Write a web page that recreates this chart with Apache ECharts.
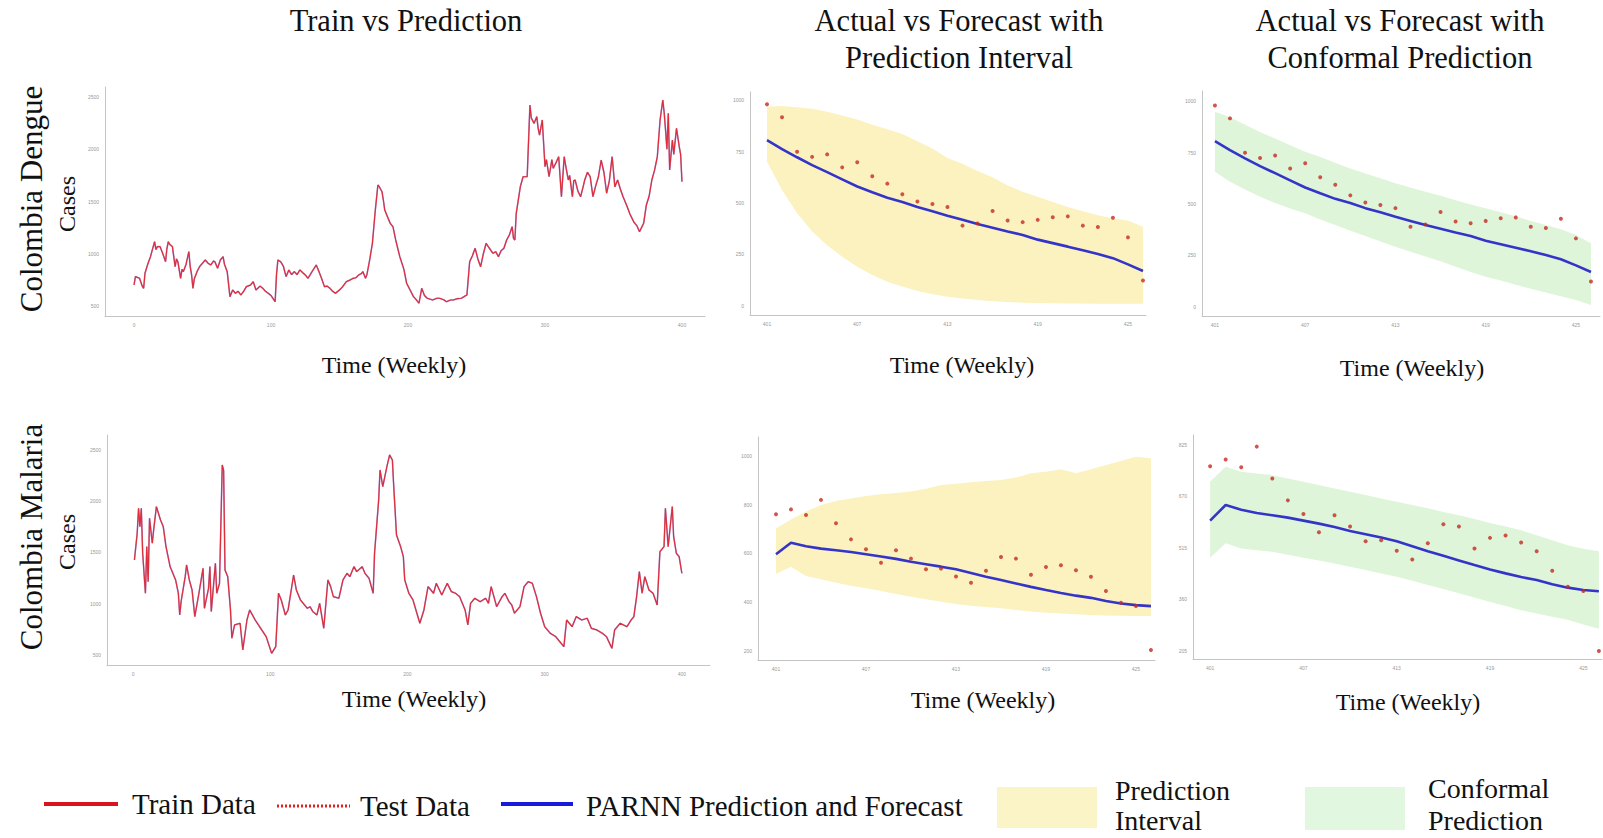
<!DOCTYPE html>
<html><head><meta charset="utf-8">
<script src="https://cdn.jsdelivr.net/npm/echarts@6/dist/echarts.min.js"></script>
<style>html,body{margin:0;padding:0;background:#fff}#c{width:1603px;height:838px}</style>
</head><body><div id="c"></div><script>
// ---------- DATA ----------
const trainXTicks = [0, 100, 200, 300, 400];
const trainYTicks = [500, 1000, 1500, 2000, 2500];
const fcXTicks = [401, 407, 413, 419, 425];
const denFcYTicks = [0, 250, 500, 750, 1000];
const malPiYTicks = [200, 400, 600, 800, 1000];
const malCpYTicks = [205, 360, 515, 670, 825];

const denTrainWeeks = [0,1,4,6,7,8,10,12,13,15,16,17,19,21,23,24,25,26,28,30,31,32,34,35,36,38,40,41,42,43,44,46,48,52,54,56,58,59,61,63,65,66,68,70,72,74,76,78,80,82,85,87,89,92,94,96,98,100,103,104,105,107,109,111,113,115,117,119,121,123,125,127,130,133,135,137,139,141,143,145,147,150,152,155,158,160,162,164,166,167,169,170,172,174,176,178,179,181,182,183,185,187,189,191,194,197,199,202,204,206,208,210,212,214,218,221,223,226,228,231,233,236,239,241,243,245,247,249,251,253,255,257,259,262,264,266,268,270,272,274,276,277,278,279,282,284,287,289,290,292,294,295,296,298,300,301,303,305,306,308,310,312,314,315,317,318,320,321,322,324,326,328,329,331,333,335,337,339,341,343,345,347,349,351,353,355,357,360,362,365,367,369,372,374,376,378,380,382,384,386,387,388,389,390,391,392,393,394,396,398,399,400];
const denTrainCases = [701,781,765,690,669,813,900,972,1020,1115,1040,1068,1068,1000,924,1050,1115,1090,1068,876,950,924,765,850,829,900,1020,876,800,669,760,829,880,940,910,892,930,924,861,940,972,900,829,589,653,621,640,605,640,685,700,733,653,690,669,640,621,600,541,800,940,924,880,781,845,800,829,800,845,820,797,765,830,892,829,760,685,690,669,640,621,653,680,733,750,765,770,797,810,829,765,800,940,1100,1400,1658,1642,1594,1514,1419,1355,1291,1259,1132,972,850,717,640,589,560,526,669,600,574,557,574,574,560,541,557,557,570,574,590,605,924,980,1052,950,876,1000,1100,1060,1004,1020,972,1030,1052,1132,1180,1259,1150,1131,1387,1642,1737,1737,2424,2300,2248,2312,2200,2136,2280,1833,1900,1737,1900,1818,1870,1929,1546,1929,1850,1706,1750,1546,1700,1706,1600,1546,1650,1706,1780,1737,1546,1650,1737,1897,1780,1579,1700,1929,1640,1706,1620,1546,1450,1380,1300,1270,1211,1291,1467,1550,1706,1800,1929,2280,2471,2350,2184,2000,2344,1802,1950,2089,1950,2200,2025,1950,1690];

const malTrainWeeks = [1,3,4,5,6,7,9,10,11,12,14,15,17,20,22,24,27,31,33,34,35,38,39,41,43,45,48,50,51,52,55,56,57,60,61,63,65,66,67,69,71,72,74,78,80,83,85,89,93,97,101,104,106,108,111,113,117,119,122,124,127,129,131,134,136,139,142,144,146,150,153,156,158,161,163,167,169,172,174,175,176,179,180,182,185,187,189,190,192,195,197,198,201,204,209,212,215,219,221,225,229,232,235,238,242,244,246,249,253,257,259,261,265,269,271,274,276,278,282,285,288,291,294,297,300,304,308,311,314,316,320,323,327,331,334,338,342,345,349,351,355,360,363,365,367,369,371,373,376,379,382,384,387,388,390,393,394,396,398,400];
const malTrainCases = [1427,1687,1931,1752,1931,1492,1102,1557,1215,1833,1590,1720,1947,1817,1752,1557,1362,1232,1102,890,1020,1264,1378,1232,1134,874,1102,1264,1345,955,1150,1362,923,1394,1102,1199,2354,2300,1329,1264,939,663,793,809,549,841,939,841,760,679,516,581,1102,1037,890,939,1280,1134,1037,1004,955,971,923,890,1004,760,1232,1167,1069,1053,1232,1297,1264,1362,1313,1362,1297,1248,1150,1102,1492,2012,2305,2142,2337,2451,2402,2142,1671,1557,1459,1232,1102,1037,809,939,1167,1102,1199,1085,1199,1118,1102,1069,939,793,1004,1053,1020,1053,1004,1167,971,1069,1102,1020,988,907,971,1167,1215,1199,1069,907,776,712,679,630,581,841,776,874,841,858,760,744,712,679,565,744,809,776,841,874,1069,1313,1102,1264,1134,1102,988,1508,1557,1931,1557,1947,1654,1492,1459,1297];

const testWeeks = [401,402,403,404,405,406,407,408,409,410,411,412,413,414,415,416,417,418,419,420,421,422,423,424,425,426];

const denTestActual = [979,916,749,724,736,673,698,630,594,542,507,495,480,390,400,461,415,407,418,431,435,390,383,428,333,124];
const denForecast   = [805,762,722,684,650,615,580,552,525,505,480,460,438,418,398,380,362,345,322,305,288,270,252,232,202,170];
const denPiUpper = [967,971,965,958,943,925,905,880,858,835,800,765,718,690,655,625,585,555,530,505,480,460,440,425,415,385];
const denPiLower = [700,563,450,361,295,239,190,150,118,94,72,57,45,36,29,23,19,16,14,13,12,12,11,11,11,11];
const denCpUpper = [948,921,885,850,818,785,754,728,700,673,648,625,601,580,560,540,518,498,479,460,440,418,398,378,350,309];
const denCpLower = [657,608,570,535,505,478,455,425,398,370,345,318,293,268,245,222,195,170,147,128,108,88,70,52,34,10];

const malTestActual = [761,781,758,820,724,658,617,562,613,579,535,538,506,480,529,586,579,513,545,552,531,505,446,398,385,204];
const malForecast   = [597,644,630,620,613,606,597,588,578,566,556,546,535,520,505,491,477,463,450,438,427,418,405,395,388,384];
const malPiUpper = [703,740,772,799,815,826,836,843,848,854,866,881,886,892,897,902,912,929,935,946,929,946,963,980,997,991];
const malPiLower = [516,546,508,494,480,468,457,446,434,423,412,402,393,386,380,375,368,362,357,354,351,348,346,345,344,344];
const malCpUpper = [714,759,744,739,734,724,714,704,694,684,674,664,654,644,634,623,613,602,590,579,568,553,538,523,512,505];
const malCpLower = [485,529,513,508,503,494,485,477,468,458,448,438,428,416,403,391,378,365,352,340,327,317,307,298,284,271];

// ---------- STYLE / LAYOUT ----------
const SERIF = '"Liberation Serif", "DejaVu Serif", serif';
const RED = '#e3242b', BLUE = '#3434c8', DOT = '#c42a22';
const YELLOW = '#fbf2bf', GREEN = '#dff5d9';

const grids = [
  {left:105, top:87,  width:600, height:229},
  {left:750, top:92,  width:396, height:223},
  {left:1202,top:91,  width:398, height:225},
  {left:107, top:435, width:603, height:230},
  {left:758, top:437, width:397, height:223},
  {left:1193,top:435, width:409, height:224}
];
const xr = [[-21.2,416.8],[399.87,426.2],[400.14,426.6],[-19,420.5],[399.8,426.27],[399.9,426.2]];
const yr = [[404,2596],[-44,1039],[-44,1049],[402,2646],[163,1078],[180,855]];
const xt = [trainXTicks, fcXTicks, fcXTicks, trainXTicks, fcXTicks, fcXTicks];
const yt = [trainYTicks, denFcYTicks, denFcYTicks, trainYTicks, malPiYTicks, malCpYTicks];

function axisCommon(){
  return {
    axisLine:{show:true, onZero:false, lineStyle:{color:'#c4c4c4', width:1}},
    axisTick:{show:false}, splitLine:{show:false}
  };
}
const lbl = (vals) => ({customValues:vals, fontSize:5, color:'#999', margin:6, fontFamily:'Arial', formatter:(v)=>String(v)});
const xAxis = grids.map((g,i)=>Object.assign(axisCommon(),{
  type:'value', gridIndex:i, min:xr[i][0], max:xr[i][1], axisLabel:lbl(xt[i])
}));
const yAxis = grids.map((g,i)=>Object.assign(axisCommon(),{
  type:'value', gridIndex:i, min:yr[i][0], max:yr[i][1], axisLabel:lbl(yt[i])
}));

const pairs = (xs, ys) => xs.map((x,k)=>[x, ys[k]]);
const series = [];

function trainSeries(i, weeks, cases){
  series.push({type:'line', xAxisIndex:i, yAxisIndex:i, data:pairs(weeks,cases),
    showSymbol:false, lineStyle:{color:'#5a3cc0', width:1.6, opacity:0.5}, z:2, silent:true});
  series.push({type:'line', xAxisIndex:i, yAxisIndex:i, data:pairs(weeks,cases),
    showSymbol:false, lineStyle:{color:RED, width:1.2, opacity:0.92}, z:3, silent:true});
}
function bandSeries(i, lower, upper, color){
  series.push({type:'custom', xAxisIndex:i, yAxisIndex:i, z:1, silent:true,
    data: testWeeks.map((w,k)=>[w, lower[k], upper[k]]),
    encode:{x:0, y:[1,2]},
    renderItem:(params, api)=>{
      if (params.dataIndex !== 0) return null;
      const pts = [];
      for (let k=0;k<testWeeks.length;k++) pts.push(api.coord([testWeeks[k], upper[k]]));
      for (let k=testWeeks.length-1;k>=0;k--) pts.push(api.coord([testWeeks[k], lower[k]]));
      return {type:'polygon', shape:{points:pts}, style:{fill:color, stroke:null}};
    }
  });
}
function fcSeries(i, forecast, actual){
  series.push({type:'line', xAxisIndex:i, yAxisIndex:i, data:pairs(testWeeks,forecast),
    showSymbol:false, lineStyle:{color:BLUE, width:2.6}, z:3, silent:true});
  series.push({type:'scatter', xAxisIndex:i, yAxisIndex:i, data:pairs(testWeeks,actual),
    symbolSize:4, itemStyle:{color:DOT}, z:4, silent:true});
}

trainSeries(0, denTrainWeeks, denTrainCases);
bandSeries(1, denPiLower, denPiUpper, YELLOW); fcSeries(1, denForecast, denTestActual);
bandSeries(2, denCpLower, denCpUpper, GREEN);  fcSeries(2, denForecast, denTestActual);
trainSeries(3, malTrainWeeks, malTrainCases);
bandSeries(4, malPiLower, malPiUpper, YELLOW); fcSeries(4, malForecast, malTestActual);
bandSeries(5, malCpLower, malCpUpper, GREEN);  fcSeries(5, malForecast, malTestActual);

function txt(text, x, y, size, align, rot){
  return {type:'text', x:x, y:y, rotation:rot||0, silent:true,
    style:{text:text, font:size+'px '+SERIF, fill:'#111', textAlign:align||'center', textVerticalAlign:'middle'}};
}
const graphic = [
  txt('Train vs Prediction', 406, 21, 30.5),
  txt('Actual vs Forecast with', 959, 21, 30.5),
  txt('Prediction Interval', 959, 58, 30.5),
  txt('Actual vs Forecast with', 1400, 21, 30.5),
  txt('Conformal Prediction', 1400, 58, 30.5),
  txt('Colombia Dengue', 31, 199, 31, 'center', Math.PI/2),
  txt('Cases', 67, 204, 24, 'center', Math.PI/2),
  txt('Colombia Malaria', 31, 537, 31, 'center', Math.PI/2),
  txt('Cases', 67, 542, 24, 'center', Math.PI/2),
  txt('Time (Weekly)', 394, 365, 24),
  txt('Time (Weekly)', 962, 365, 24),
  txt('Time (Weekly)', 1412, 368, 24),
  txt('Time (Weekly)', 414, 699, 24),
  txt('Time (Weekly)', 983, 700, 24),
  txt('Time (Weekly)', 1408, 702, 24),
  {type:'line', shape:{x1:44,y1:804,x2:118,y2:804}, style:{stroke:'#d9141e', lineWidth:4}},
  txt('Train Data', 132, 804, 29, 'left'),
  {type:'line', shape:{x1:277,y1:806,x2:350,y2:806}, style:{stroke:'#e02020', lineWidth:3, lineDash:[2,2]}},
  txt('Test Data', 360, 806, 29, 'left'),
  {type:'line', shape:{x1:501,y1:804,x2:573,y2:804}, style:{stroke:'#1a1adb', lineWidth:4}},
  txt('PARNN Prediction and Forecast', 586, 806, 29, 'left'),
  {type:'rect', shape:{x:997,y:787,width:100,height:41}, style:{fill:'#fbf4c6'}},
  txt('Prediction', 1115, 790, 28, 'left'),
  txt('Interval', 1115, 820, 28, 'left'),
  {type:'rect', shape:{x:1305,y:787,width:100,height:43}, style:{fill:'#e2f7df'}},
  txt('Conformal', 1428, 788, 28, 'left'),
  txt('Prediction', 1428, 820, 28, 'left')
];

const chart = echarts.init(document.getElementById('c'), null, {renderer:'svg'});
chart.setOption({
  animation:false, backgroundColor:'#fff',
  grid:grids, xAxis:xAxis, yAxis:yAxis, series:series, graphic:graphic
});
</script></body></html>
